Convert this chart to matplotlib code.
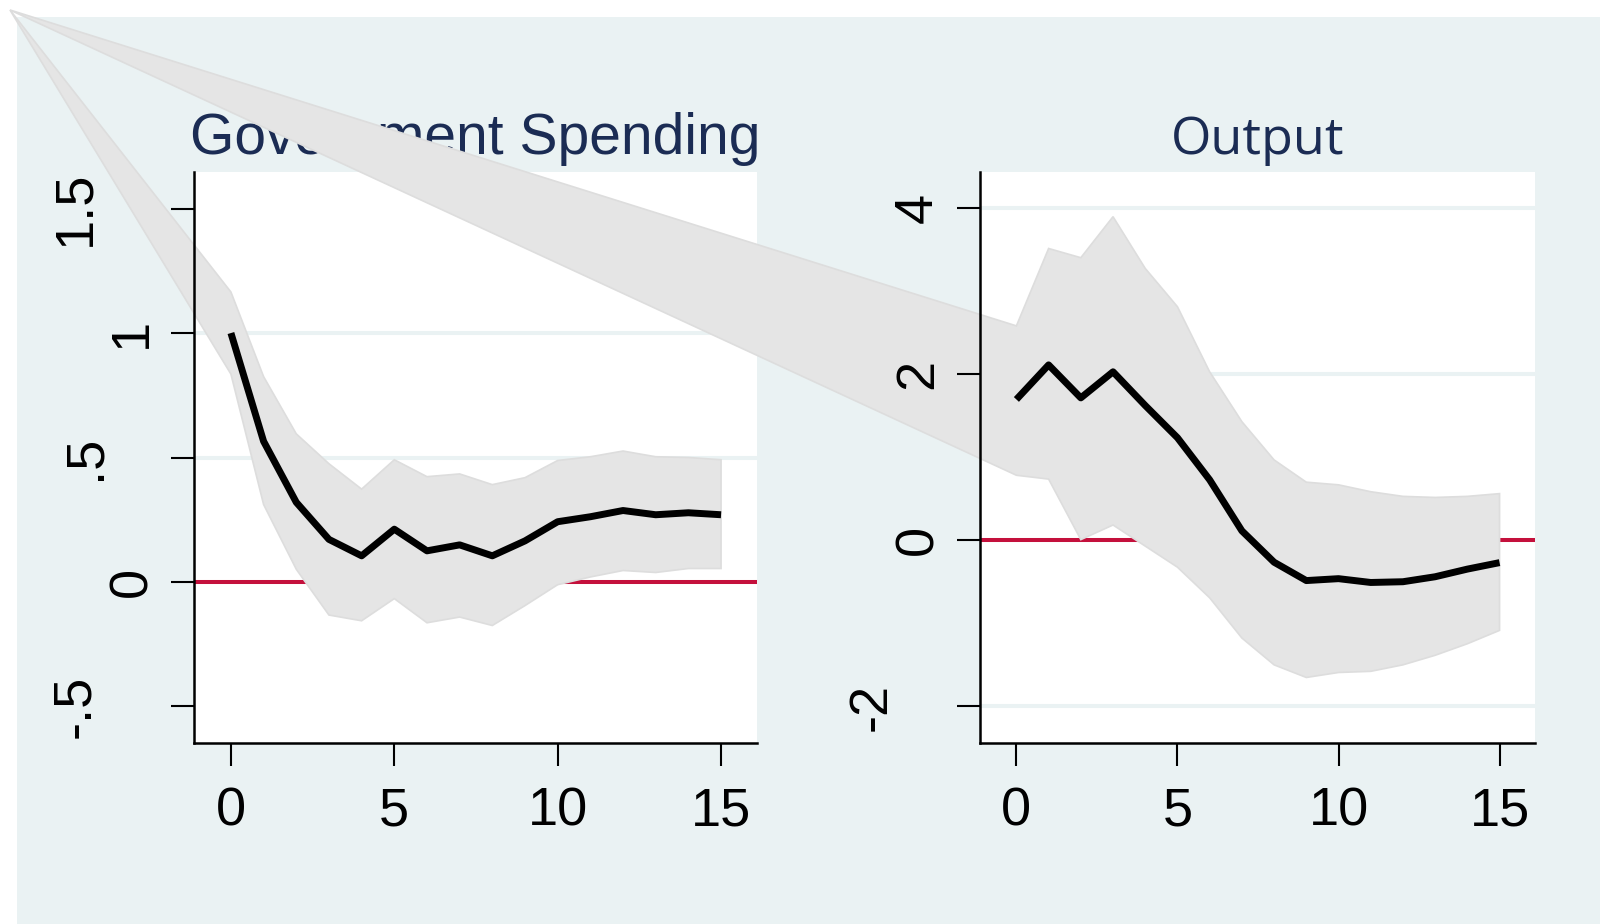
import matplotlib
matplotlib.use("Agg")
import matplotlib.pyplot as plt
from matplotlib.patches import Rectangle
from matplotlib.transforms import ScaledTranslation

# impulse responses, horizon 0..15
steps = list(range(16))

gov_irf = [1.0, 0.565, 0.32, 0.171, 0.105, 0.212, 0.125, 0.149, 0.105, 0.165, 0.242, 0.262, 0.287, 0.27, 0.278, 0.27]
gov_hi = [1.165, 0.825, 0.595, 0.475, 0.373, 0.491, 0.423, 0.434, 0.391, 0.419, 0.488, 0.503, 0.526, 0.503, 0.5, 0.491]
gov_lo = [0.835, 0.311, 0.051, -0.133, -0.156, -0.067, -0.164, -0.141, -0.175, -0.095, -0.011, 0.02, 0.046, 0.038, 0.054, 0.054]

out_irf = [1.697, 2.113, 1.716, 2.03, 1.624, 1.236, 0.729, 0.115, -0.263, -0.484, -0.461, -0.507, -0.498, -0.438, -0.346, -0.268]
out_hi = [2.583, 3.515, 3.404, 3.898, 3.275, 2.814, 2.03, 1.43, 0.969, 0.701, 0.669, 0.586, 0.53, 0.517, 0.53, 0.563]
out_lo = [0.784, 0.738, 0.009, 0.185, -0.069, -0.323, -0.692, -1.176, -1.499, -1.651, -1.591, -1.577, -1.499, -1.384, -1.245, -1.084]

titles = ["Government Spending", "Output"]
xticks = [0, 5, 10, 15]
gov_yticks = [-0.5, 0, 0.5, 1, 1.5]
gov_ylabels = ["-.5", "0", ".5", "1", "1.5"]
gov_grid = [0.5, 1]
out_yticks = [-2, 0, 2, 4]
out_ylabels = ["-2", "0", "2", "4"]
out_grid = [-2, 2, 4]

BG = "#EAF2F3"
NAVY = "#1B2C54"
RED = "#C4103C"
BAND = "#E5E5E5"
W, H = 1600, 924

fig = plt.figure(figsize=(W / 100, H / 100), dpi=100)
fig.patch.set_facecolor("white")
fig.add_artist(Rectangle((17 / W, 0), 1 - 17 / W, 1 - 17 / H, transform=fig.transFigure,
                         facecolor=BG, edgecolor="none", zorder=-10))

ax1 = fig.add_axes([194 / W, 1 - 743 / H, 563 / W, 571 / H])
ax2 = fig.add_axes([980 / W, 1 - 743 / H, 555 / W, 571 / H])


def panel(ax, title, irf, hi, lo, yticks, ylabels, grid, ylim, tfont, tsize):
    ax.set_facecolor("white")
    ax.set_xlim(-1.13, 16.1)
    ax.set_ylim(*ylim)
    for s in ["top", "right"]:
        ax.spines[s].set_visible(False)
    for s in ["left", "bottom"]:
        ax.spines[s].set_linewidth(1.8)
    for g in grid:
        ax.axhline(g, color=BG, lw=2.9, zorder=0.6)
    ax.axhline(0, color=RED, lw=2.9, zorder=0.8)

    # band polygon starts from the graph corner (as in the original export)
    corner = ax.transData.inverted().transform(fig.transFigure.transform((10 / W, 1 - 10 / H)))
    px = [corner[0]] + steps + steps[::-1]
    py = [corner[1]] + hi + lo[::-1]
    ax.fill(px, py, facecolor=BAND, edgecolor="#DDDDDD", lw=1.2, clip_on=False, zorder=1)

    ax.plot(steps, irf, color="black", lw=5, solid_capstyle="butt", zorder=2)

    ax.set_xticks(xticks)
    ax.set_xticklabels([str(v) for v in xticks], fontfamily="Liberation Sans", fontsize=39)
    ax.set_yticks(yticks)
    ax.set_yticklabels(ylabels, fontfamily="Liberation Sans", fontsize=39, rotation=90, va="center")
    ax.tick_params(length=16.5, width=1.5, color="black")
    ax.tick_params(axis="x", pad=15)
    ax.tick_params(axis="y", pad=10)
    shift = {1: 0, 2: 47, 3: 57}
    for t, lab in zip(ax.yaxis.get_major_ticks(), ylabels):
        dx = shift[len(lab)] / 100
        t.label1.set_transform(t.label1.get_transform() + ScaledTranslation(-dx, 0, fig.dpi_scale_trans))

    ax.set_title(title, fontfamily=tfont, fontsize=tsize, color=NAVY, pad=13)


panel(ax1, titles[0], gov_irf, gov_hi, gov_lo, gov_yticks, gov_ylabels, gov_grid,
      (-0.647, 1.647), "Liberation Sans", 41)
panel(ax2, titles[1], out_irf, out_hi, out_lo, out_yticks, out_ylabels, out_grid,
      (-2.44, 4.436), "Open Sans", 37.5)

fig.savefig("out.png", dpi=100)
